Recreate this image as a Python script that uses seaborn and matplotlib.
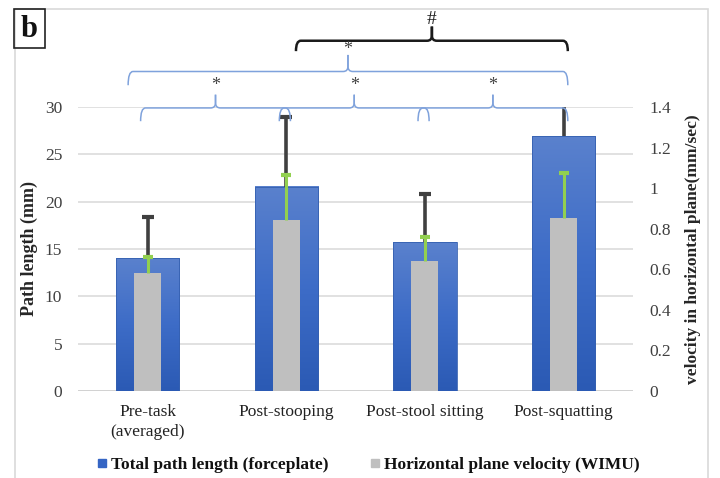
import numpy as np
import pandas as pd
import matplotlib
matplotlib.use("Agg")
import matplotlib.pyplot as plt
import seaborn as sns
from matplotlib.colors import LinearSegmentedColormap
from matplotlib.lines import Line2D
from matplotlib.path import Path
from matplotlib.patches import PathPatch, Rectangle

# ---------------- data ----------------
categories = ["Pre-task\n(averaged)", "Post-stooping", "Post-stool sitting", "Post-squatting"]
path_length = [14.0, 21.6, 15.7, 26.9]          # mm (left axis)
path_length_err = [4.4, 7.3, 5.1, 4.0]
velocity = [0.583, 0.843, 0.641, 0.852]          # mm/sec (right axis)
velocity_err = [0.079, 0.221, 0.119, 0.224]
left_ticks = [0, 5, 10, 15, 20, 25, 30]
right_ticks = [0, 0.2, 0.4, 0.6, 0.8, 1.0, 1.2, 1.4]
right_ticklabels = ["0", "0.2", "0.4", "0.6", "0.8", "1", "1.2", "1.4"]
legend_labels = ["Total path length (forceplate)", "Horizontal plane velocity (WIMU)"]
# significance comparisons: (from group, to group, label, style)
comparisons = [(0, 1, "*", "small"), (1, 2, "*", "small"), (2, 3, "*", "small"),
               (0, 3, "*", "big"), (1, 3, "#", "black")]

# ---------------- style ----------------
sns.set_theme(style="white")
plt.rcParams["font.family"] = ["Liberation Serif", "DejaVu Serif"]
FS = 12.5

fig = plt.figure(figsize=(7.2, 4.78), dpi=100)
ax = fig.add_axes([78.2 / 720, 1 - 391 / 478, (633 - 78.2) / 720, (391 - 107) / 478])
ax2 = ax.twinx()

df = pd.DataFrame({"cat": categories, "path": path_length, "vel": velocity})

sns.barplot(data=df, x="cat", y="path", ax=ax, color="#3F6DC8", width=0.455,
            saturation=1, edgecolor="#3560B0", linewidth=0.6, zorder=2)
sns.barplot(data=df, x="cat", y="vel", ax=ax2, color="#BFBFBF", width=0.195,
            saturation=1, linewidth=0, zorder=2)

# gradient fill for blue bars
cmap = LinearSegmentedColormap.from_list("bl", ["#2B5AB4", "#3D6CC7", "#5A81CD"])
grad = np.linspace(0, 1, 256).reshape(-1, 1)
for p in list(ax.patches):
    x0, y0 = p.get_x(), p.get_y()
    w, h = p.get_width(), p.get_height()
    ax.imshow(grad, extent=[x0, x0 + w, y0, y0 + h], origin="lower", aspect="auto",
              cmap=cmap, zorder=2.1)
    p.set_facecolor("none")
    p.set_zorder(2.2)

xs = np.arange(len(categories))
pl = np.array(path_length); ple = np.array(path_length_err)
ve = np.array(velocity); vee = np.array(velocity_err)

ax.errorbar(xs, pl, yerr=[np.zeros_like(ple), ple], fmt="none", ecolor="#404040",
            elinewidth=2.6, capsize=0, zorder=3)
ax.plot(xs, pl + ple, ls="none", marker="_", ms=8, mew=3, color="#404040", zorder=3)
ax2.errorbar(xs, ve, yerr=[np.zeros_like(vee), vee], fmt="none", ecolor="#92D050",
             elinewidth=2.2, capsize=0, zorder=3)
ax2.plot(xs, ve + vee, ls="none", marker="_", ms=7, mew=3, color="#92D050", zorder=3)

ax.set_xlim(-0.5, len(categories) - 0.5)
ax.set_ylim(0, 30)
ax2.set_ylim(0, 1.4)
ax.set_yticks(left_ticks)
ax.set_yticklabels([str(t) for t in left_ticks], fontsize=FS, color="#404040")
ax2.set_yticks(right_ticks)
ax2.set_yticklabels(right_ticklabels, fontsize=FS, color="#404040")
ax2.xaxis.set_visible(False)
ax.set_xticks(xs)
ax.set_xticklabels(categories, fontsize=FS, color="#222222", linespacing=1.4)
ax.tick_params(axis="both", length=0)
ax.tick_params(axis="y", pad=11.5)
ax.tick_params(axis="x", pad=9)
ax2.tick_params(axis="both", length=0)
ax2.tick_params(axis="y", pad=11.5)
ax.set_xlabel("")
ax.set_ylabel("Path length (mm)", fontsize=13, fontweight="bold", labelpad=5)
ax2.set_ylabel("velocity in horizontal plane(mm/sec)", fontsize=12.5, fontweight="bold",
               labelpad=10)
ax.yaxis.grid(True, color="#D9D9D9", lw=1.1)
ax.set_axisbelow(True)
for s in ax.spines.values():
    s.set_visible(False)
for s in ax2.spines.values():
    s.set_visible(False)
ax.axhline(0, color="#D0D0D0", lw=1.2, zorder=1)

# ---------------- significance braces ----------------
styles = {
    "small": dict(color="#7FA2DC", lw=1.1, a=-0.05, b=0.03, yb=28.5, yh=29.9, yt=31.3,
                  ty=32.3, tfs=13, tcolor="#404040"),
    "big": dict(color="#7FA2DC", lw=1.1, a=-0.14, b=0.03, yb=32.3, yh=33.75, yt=35.5,
                ty=36.1, tfs=13, tcolor="#404040"),
    "black": dict(color="#1A1A1A", lw=1.8, a=0.07, b=0.03, yb=35.9, yh=37.0, yt=38.5,
                  ty=39.2, tfs=14, tcolor="#1A1A1A"),
}


def brace(axis, x0, x1, yb, yh, yt, color, lw):
    xc = (x0 + x1) / 2
    rx, ry = 0.035, 0.55
    for s in (1, -1):
        xa = x0 if s == 1 else x1
        verts = [(xa, yb), (xa, yh), (xa + s * rx, yh),
                 (xc - s * rx, yh), (xc, yh), (xc, yh + ry), (xc, yt)]
        codes = [Path.MOVETO, Path.CURVE3, Path.CURVE3, Path.LINETO,
                 Path.CURVE3, Path.CURVE3, Path.LINETO]
        axis.add_patch(PathPatch(Path(verts, codes), fill=False, edgecolor=color, lw=lw,
                                 clip_on=False, zorder=5))
    return xc


for i, j, lab, st in comparisons:
    d = styles[st]
    xc = brace(ax, i + d["a"], j + d["b"], d["yb"], d["yh"], d["yt"], d["color"], d["lw"])
    ax.text(xc, d["ty"], lab, ha="center", va="center", fontsize=d["tfs"],
            color=d["tcolor"], clip_on=False, zorder=6)

# ---------------- legend ----------------
handles = [Line2D([], [], ls="none", marker="s", ms=6, color="#3565C4"),
           Line2D([], [], ls="none", marker="s", ms=6, color="#BFBFBF")]
fig.legend(handles, legend_labels, loc="center", bbox_to_anchor=(0.511, 0.028), ncol=2,
           frameon=False, prop={"size": FS, "weight": "bold"}, handlelength=0.6,
           handletextpad=0.2, columnspacing=2.4, labelcolor="#111111")

# ---------------- frame and panel label ----------------
fig.patches.append(Rectangle((15 / 720, -0.05), (708 - 15) / 720, 1 - 9 / 478 + 0.05,
                             transform=fig.transFigure, fill=False, edgecolor="#D9D9D9",
                             lw=1.2, zorder=0))
fig.patches.append(Rectangle((14 / 720, 1 - 48 / 478), 31 / 720, 39 / 478,
                             transform=fig.transFigure, fill=False, edgecolor="#222222",
                             lw=1.2, zorder=10))
fig.text(29.5 / 720, 1 - 29.5 / 478, "b", ha="center", va="center", fontsize=22,
         fontweight="bold", color="#111111")

fig.savefig("out.png", dpi=100)
